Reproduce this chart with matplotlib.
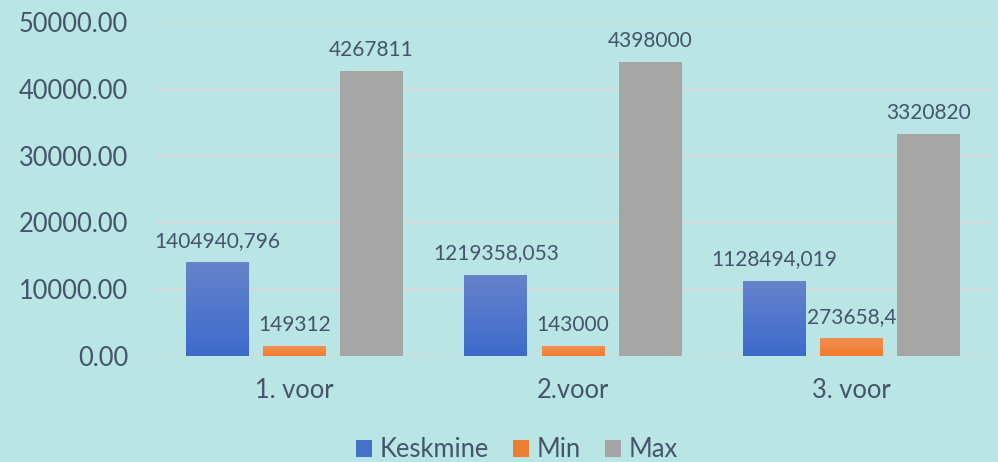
import matplotlib
matplotlib.use("Agg")
import matplotlib.pyplot as plt
import numpy as np
from matplotlib.colors import LinearSegmentedColormap

categories = ["1. voor", "2.voor", "3. voor"]
series_names = ["Keskmine", "Min", "Max"]
keskmine = [14049.41, 12193.58, 11284.94]
min_vals = [1493.12, 1430.00, 2736.58]
max_vals = [42678.11, 43980.00, 33208.20]
label_keskmine = ["1404940,796", "1219358,053", "1128494,019"]
label_min = ["149312", "143000", "273658,4"]
label_max = ["4267811", "4398000", "3320820"]
yticks = [0, 10000, 20000, 30000, 40000, 50000]

bg = "#bae5e5"
txt = "#44546a"
plt.rcParams['font.family'] = ['Lato', 'DejaVu Sans']

fig = plt.figure(figsize=(9.98, 4.62), dpi=100, facecolor=bg)
ax = fig.add_axes([0.1553, 0.2294, 0.8377, 0.7226])
ax.set_facecolor(bg)

grads = [("#6683cc", "#3d6bcb"), ("#f09152", "#f47b2e"), ("#a6a6a6", "#a6a6a6")]
solid = ["#4472c4", "#ed7d31", "#a5a5a5"]
data = [keskmine, min_vals, max_vals]
labels = [label_keskmine, label_min, label_max]
x = np.arange(len(categories))
w = 0.226
step = 0.2765

ax.set_xlim(-0.5, len(categories) - 0.5)
ax.set_ylim(0, 50000)
for yv in yticks:
    ax.axhline(yv, color="#d9d9d9", lw=1.5, zorder=0)

for i, (vals, (ctop, cbot), lab) in enumerate(zip(data, grads, labels)):
    pos = x + (i - 1) * step
    bars = ax.bar(pos, vals, width=w, color=solid[i], label=series_names[i], zorder=2, linewidth=0)
    cmap = LinearSegmentedColormap.from_list("g%d" % i, [cbot, ctop])
    for b, t in zip(bars, lab):
        bx, by, bw, bh = b.get_x(), b.get_y(), b.get_width(), b.get_height()
        grad = np.linspace(0, 1, 256).reshape(-1, 1)
        im = ax.imshow(grad, cmap=cmap, origin="lower", aspect="auto",
                       extent=[bx, bx + bw, by, by + bh], zorder=3)
        im.set_clip_path(b)
        ax.annotate(t, (bx + bw / 2, by + bh), xytext=(0, 8), textcoords="offset points",
                    ha="center", va="bottom", fontsize=15, color=txt, zorder=4)

ax.set_xlim(-0.5, len(categories) - 0.5)
ax.set_ylim(0, 50000)
ax.set_yticks(yticks)
ax.set_yticklabels(["%.2f" % v for v in yticks], fontsize=18.4, color=txt)
ax.set_xticks(x)
ax.set_xticklabels(categories, fontsize=18.4, color=txt)
ax.tick_params(axis="y", length=0, pad=19.4)
ax.tick_params(axis="x", length=0, pad=16)
for s in ax.spines.values():
    s.set_visible(False)

handles, lbls = ax.get_legend_handles_labels()
leg = fig.legend(handles, lbls, loc="center", bbox_to_anchor=(0.518, 0.026), ncol=3,
                 frameon=False, fontsize=18.4, handlelength=0.625, handleheight=0.625,
                 handletextpad=0.31, columnspacing=0.94, borderpad=0, borderaxespad=0)
for t in leg.get_texts():
    t.set_color(txt)

fig.savefig("out.png", dpi=100, facecolor=bg)
